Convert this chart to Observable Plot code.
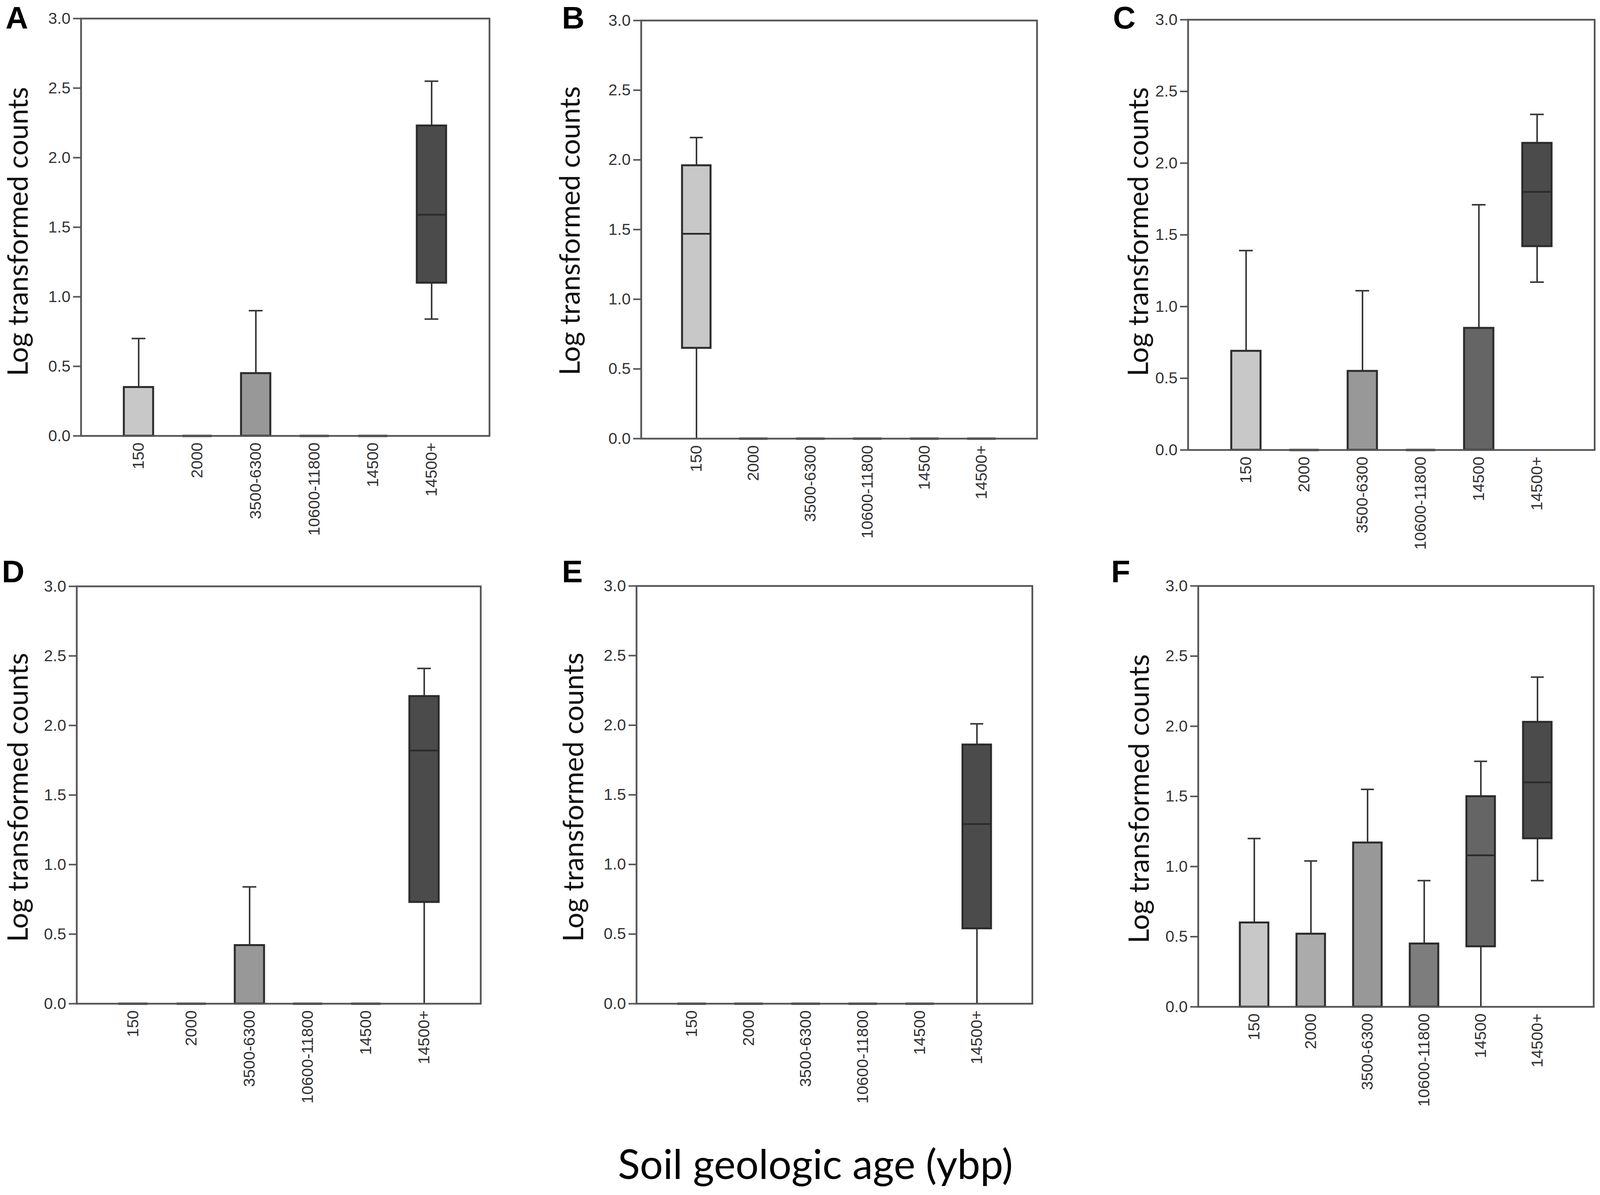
<!DOCTYPE html>
<html><head><meta charset="utf-8">
<script src="https://cdn.jsdelivr.net/npm/d3@7"></script>
<script src="https://cdn.jsdelivr.net/npm/@observablehq/plot@0.6"></script>
<style>
html,body{margin:0;padding:0;background:#fff;overflow:hidden;}
#page{position:relative;height:3058px;overflow:hidden;background:#fff;}
.panel{position:absolute;}
.letter{position:absolute;font-family:"Liberation Sans",Arial,sans-serif;font-weight:bold;font-size:80px;line-height:1;color:#000;}
#title{position:absolute;font-family:Lato,sans-serif;line-height:1;color:#000;white-space:nowrap;}
</style></head><body><div id="page"></div>
<script>
// Soil geologic age categories (ybp)
const categories = ["150", "2000", "3500-6300", "10600-11800", "14500", "14500+"];
const fills = ["#c8c8c8", "#ababab", "#989898", "#7d7d7d", "#656565", "#4b4b4b"];
// each row: [lowWhisker, q1, median, q3, highWhisker] in category order
const panelA = [[0,0,0,0.35,0.70],[0,0,0,0,0],[0,0,0,0.45,0.90],[0,0,0,0,0],[0,0,0,0,0],[0.84,1.10,1.59,2.23,2.55]];
const panelB = [[0,0.65,1.47,1.96,2.16],[0,0,0,0,0],[0,0,0,0,0],[0,0,0,0,0],[0,0,0,0,0],[0,0,0,0,0]];
const panelC = [[0,0,0,0.69,1.39],[0,0,0,0,0],[0,0,0,0.55,1.11],[0,0,0,0,0],[0,0,0,0.85,1.71],[1.17,1.42,1.80,2.14,2.34]];
const panelD = [[0,0,0,0,0],[0,0,0,0,0],[0,0,0,0.42,0.84],[0,0,0,0,0],[0,0,0,0,0],[0,0.73,1.82,2.21,2.41]];
const panelE = [[0,0,0,0,0],[0,0,0,0,0],[0,0,0,0,0],[0,0,0,0,0],[0,0,0,0,0],[0,0.54,1.29,1.86,2.01]];
const panelF = [[0,0,0,0.60,1.20],[0,0,0,0.52,1.04],[0,0,0,1.17,1.55],[0,0,0,0.45,0.90],[0,0.43,1.08,1.50,1.75],[0.90,1.20,1.60,2.03,2.35]];
const yTicks = [0, 0.5, 1.0, 1.5, 2.0, 2.5, 3.0];
const yLabel = "Log transformed counts";
const xTitle = "Soil geologic age (ybp)";

// layout in reference pixels (4317 wide): frame [left, top, width, height],
// letter position, y-label offset from frame left and vertical shift
const panels = [
  {letter: "A", rows: panelA, frame: [218, 47, 1102, 1068], lp: [15, 6], lab: [178, 11]},
  {letter: "B", rows: panelB, frame: [1730, 52, 1068, 1070], lp: [1516, 6], lab: [180, 3]},
  {letter: "C", rows: panelC, frame: [3205, 50, 1097, 1101], lp: [3003, 6], lab: [125, -8]},
  {letter: "D", rows: panelD, frame: [207, 1500, 1090, 1068], lp: [5, 1423], lab: [159, 6]},
  {letter: "E", rows: panelE, frame: [1717, 1499, 1068, 1069], lp: [1516, 1423], lab: [159, 6]},
  {letter: "F", rows: panelF, frame: [3233, 1499, 1067, 1077], lp: [2998, 1423], lab: [149, 6]}
];

const page = document.getElementById("page");
const vw = document.documentElement.clientWidth || window.innerWidth || 4317;
const sx = Math.min(1, vw / 4317);
page.style.width = Math.round(4317 * sx) + "px";

const ctx = document.createElement("canvas").getContext("2d");
function fitSize(text, family, target, weight = "normal") {
  ctx.font = `${weight} 100px ${family}`;
  return 100 * target / ctx.measureText(text).width;
}
const yLabSize = fitSize(yLabel, "Lato", 740);

const ML = 215, MR = 12, MT = 12, MB = 270;
const ink = "#2b2b2b";
const capInset = 21 * sx;

for (const p of panels) {
  const [L0, T, W0, H] = p.frame;
  const L = L0 * sx, W = W0 * sx;
  const labDx = Math.min(p.lab[0], L - 48);
  const data = p.rows.map((r, i) => ({cat: categories[i], low: r[0], q1: r[1], med: r[2], q3: r[3], high: r[4]}));
  const boxes = data.filter(d => d.q3 > d.q1);
  const flats = data.filter(d => d.q3 <= d.q1);
  const up = data.filter(d => d.high > d.q3);
  const down = data.filter(d => d.low < d.q1);
  const capsDown = down.filter(d => d.low > 0);
  const medians = data.filter(d => d.med > d.q1 && d.med < d.q3);
  const chart = Plot.plot({
    width: W + ML + MR, height: H + MT + MB,
    marginLeft: ML, marginRight: MR, marginTop: MT, marginBottom: MB,
    style: {fontFamily: "'Liberation Sans', Arial, sans-serif", fontSize: "41px", color: "#333", background: "transparent", overflow: "visible"},
    x: {type: "band", domain: categories, paddingInner: 0.5, paddingOuter: 0.72},
    y: {domain: [0, 3]},
    color: {type: "ordinal", domain: categories, range: fills},
    marks: [
      Plot.ruleX(up, {x: "cat", y1: "q3", y2: "high", stroke: "#383838", strokeWidth: 4}),
      Plot.ruleX(down, {x: "cat", y1: "low", y2: "q1", stroke: "#383838", strokeWidth: 4}),
      Plot.tickY(up, {x: "cat", y: "high", insetLeft: capInset, insetRight: capInset, stroke: "#383838", strokeWidth: 4}),
      Plot.tickY(capsDown, {x: "cat", y: "low", insetLeft: capInset, insetRight: capInset, stroke: "#383838", strokeWidth: 4}),
      Plot.barY(boxes, {x: "cat", y1: "q1", y2: "q3", fill: "cat", stroke: ink, strokeWidth: 5}),
      Plot.tickY(medians, {x: "cat", y: "med", stroke: ink, strokeWidth: 4.5}),
      Plot.tickY(flats, {x: "cat", y: "q3", stroke: ink, strokeWidth: 6}),
      Plot.axisY({ticks: yTicks, tickFormat: d3.format(".1f"), tickSize: 20, tickPadding: 7, stroke: "#555", strokeWidth: 4, fill: "#333", label: null}),
      Plot.axisX({tickRotate: -90, tickSize: 0, tickPadding: 17, fill: "#333", label: null}),
      Plot.frame({stroke: "#555", strokeWidth: 4.5}),
      Plot.text([yLabel], {frameAnchor: "left", rotate: -90, dx: -labDx, dy: p.lab[1], textAnchor: "middle", lineAnchor: "middle", fontFamily: "Lato, sans-serif", fontSize: yLabSize, fill: "#111"})
    ]
  });
  chart.classList.add("panel");
  chart.style.left = (L - ML) + "px";
  chart.style.top = (T - MT) + "px";
  page.appendChild(chart);
  const lt = document.createElement("div");
  lt.className = "letter";
  lt.textContent = p.letter;
  lt.style.left = (p.lp[0] * sx) + "px";
  lt.style.top = p.lp[1] + "px";
  page.appendChild(lt);
}

const titleW = 1066 * sx;
const titleSize = fitSize(xTitle, "Lato", titleW);
const title = document.createElement("div");
title.id = "title";
title.textContent = xTitle;
title.style.fontSize = titleSize + "px";
title.style.left = (2200 * sx - titleW / 2) + "px";
title.style.top = (2943 - 0.171 * titleSize) + "px";
page.appendChild(title);
</script>
</body></html>
